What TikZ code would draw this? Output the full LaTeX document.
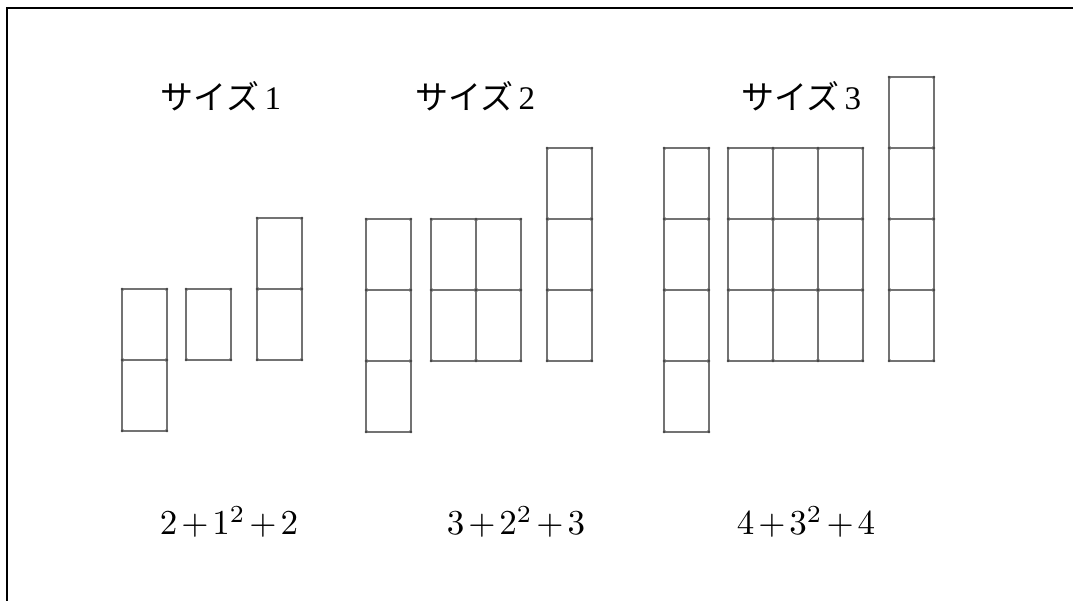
\documentclass[tikz,border=0pt]{standalone}
\usepackage{fontspec}
\newfontfamily\jpfont{Noto Sans CJK JP}
\newfontfamily\numfont{Liberation Serif}
\tikzset{
  cellline/.style={draw=black!55, line width=1.8pt, rounded corners=1.5pt},
  junction/.style={fill=black!75, draw=none},
  sizelabel/.style={font=\fontsize{33}{36}\selectfont, inner sep=0pt, anchor=center},
  formula/.style={inner sep=0pt, anchor=center},
  frameline/.style={draw=black, line width=2pt}
}
\newcommand\blockgrid[4]{%
  \foreach \i in {1,...,#3}{\foreach \j in {1,...,#4}{%
    \draw[cellline] ({#1+(\i-1)*45},{#2+(\j-1)*71}) rectangle ++(45,71);}}%
  \foreach \i in {0,...,#3}{\foreach \j in {0,...,#4}{%
    \fill[junction] ({#1+\i*45},{#2+\j*71}) circle (1.3);}}%
}
\newcommand\formulatext[1]{\scalebox{3.5}{$\medmuskip=2mu #1$}}
\begin{document}
\begin{tikzpicture}[x=1pt,y=-1pt]
\useasboundingbox (0,0) rectangle (1073,601);
\draw[frameline] (7,601) -- (7,8) -- (1073,8);
% size 1
\blockgrid{122}{289}{1}{2}
\blockgrid{186}{289}{1}{1}
\blockgrid{257}{218}{1}{2}
% size 2
\blockgrid{366}{219}{1}{3}
\blockgrid{431}{219}{2}{2}
\blockgrid{547}{148}{1}{3}
% size 3
\blockgrid{664}{148}{1}{4}
\blockgrid{728}{148}{3}{3}
\blockgrid{889}{77}{1}{4}
% labels
\node[sizelabel] (s1) at (221,96) {\jpfont サイズ\,\numfont 1};
\node[sizelabel] (s2) at (475,96) {\jpfont サイズ\,\numfont 2};
\node[sizelabel] (s3) at (801,96) {\jpfont サイズ\,\numfont 3};
% formulas
\node[formula] (f1) at (229,522) {\formulatext{2+1^2+2}};
\node[formula] (f2) at (516,522) {\formulatext{3+2^2+3}};
\node[formula] (f3) at (806,522) {\formulatext{4+3^2+4}};
\end{tikzpicture}
\end{document}
